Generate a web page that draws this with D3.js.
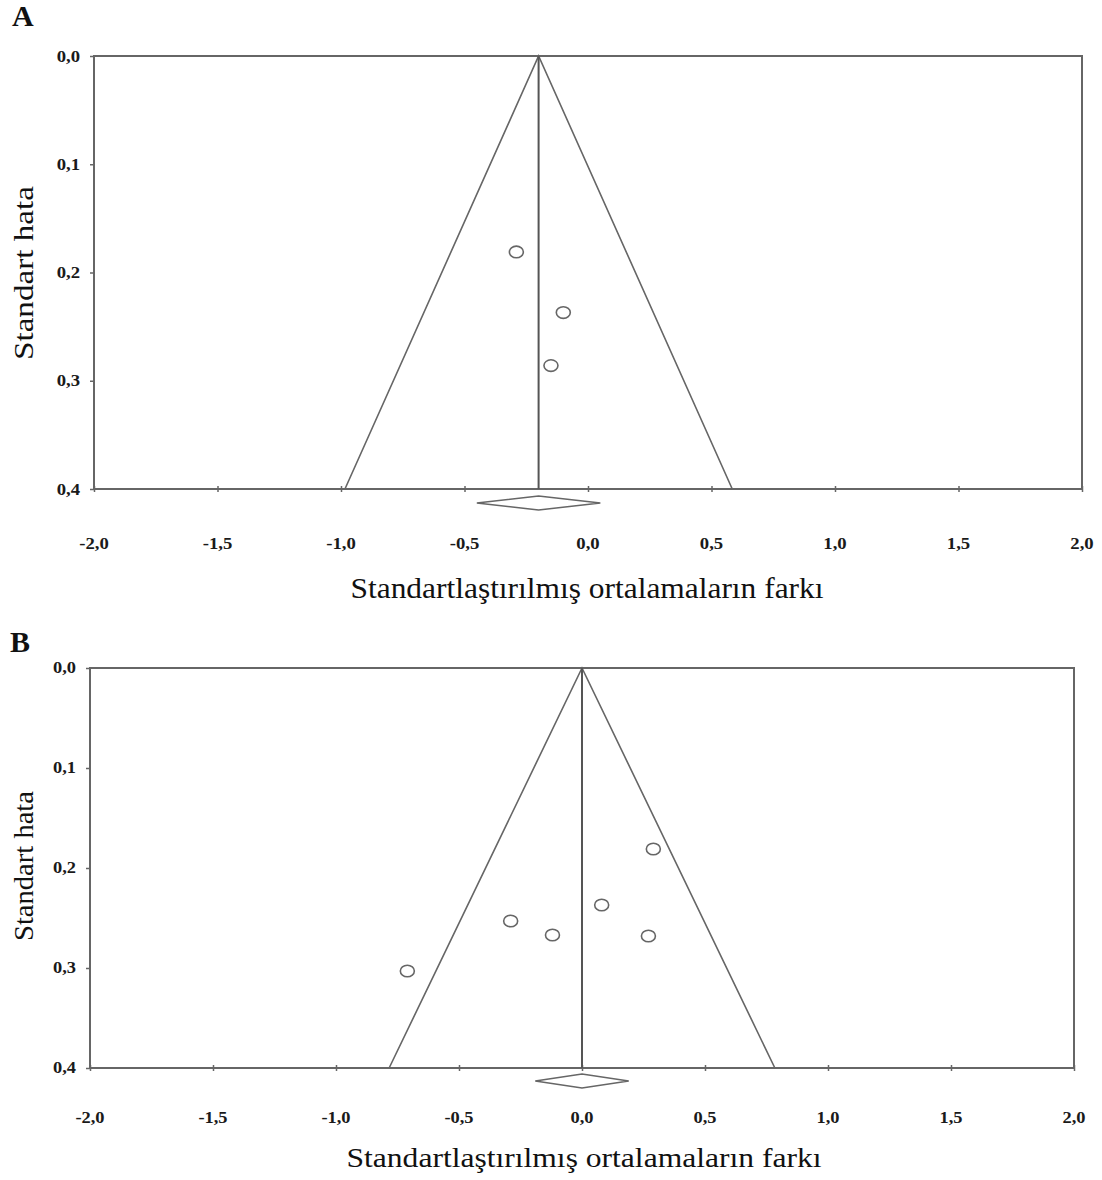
<!DOCTYPE html>
<html>
<head>
<meta charset="utf-8">
<script src="https://cdn.jsdelivr.net/npm/d3@7/dist/d3.min.js"></script>
<style>
  html, body { margin: 0; padding: 0; background: #fff; }
  svg { display: block; }
</style>
</head>
<body>
<svg id="chart" width="1102" height="1180"></svg>
<script>
// Shared axis values
const xTicks = [-2.0, -1.5, -1.0, -0.5, 0.0, 0.5, 1.0, 1.5, 2.0];
const yTicks = [0.0, 0.1, 0.2, 0.3, 0.4];
const xDomain = [-2, 2];
const yDomain = [0, 0.4];
const xTitle = "Standartlaştırılmış ortalamaların farkı";
const yTitle = "Standart hata";

// Panel A: study effects (standardised mean difference) and standard errors
const effectsA = [-0.29, -0.10, -0.15];
const stdErrA = [0.181, 0.237, 0.286];
const pooledA = -0.20;
const pooledCIA = [-0.45, 0.05];

// Panel B
const effectsB = [0.29, 0.08, -0.29, -0.12, 0.27, -0.71];
const stdErrB = [0.181, 0.237, 0.253, 0.267, 0.268, 0.303];
const pooledB = 0.0;
const pooledCIB = [-0.19, 0.19];

const SERIF = "'Liberation Serif', 'Times New Roman', Times, serif";
const fmt = v => d3.format(".1f")(v).replace("\u2212", "-").replace(".", ",");

const svg = d3.select("#chart");

function drawPanel(cfg) {
  const g = svg.append("g").attr("font-family", SERIF);
  const x = d3.scaleLinear().domain(xDomain).range([cfg.left, cfg.right]);
  const y = d3.scaleLinear().domain(yDomain).range([cfg.top, cfg.bottom]);
  const stroke = "#666";

  // panel letter
  g.append("text")
    .attr("x", cfg.letterX).attr("y", cfg.letterY)
    .attr("font-family", SERIF)
    .attr("font-weight", "bold").attr("font-size", 30)
    .attr("fill", "#111")
    .text(cfg.letter);

  // frame
  g.append("rect")
    .attr("x", x(xDomain[0])).attr("y", y(yDomain[0]))
    .attr("width", x(xDomain[1]) - x(xDomain[0]))
    .attr("height", y(yDomain[1]) - y(yDomain[0]))
    .attr("fill", "none").attr("stroke", stroke).attr("stroke-width", 2);

  // y axis ticks and labels
  const yAxis = d3.axisLeft(y).tickValues(yTicks).tickSize(4).tickFormat(fmt);
  const ya = g.append("g").attr("transform", `translate(${x(xDomain[0])},0)`).call(yAxis);
  ya.select(".domain").remove();
  ya.selectAll(".tick line").attr("stroke", stroke).attr("stroke-width", 1.5);
  ya.selectAll(".tick text").remove();
  yTicks.forEach(v => {
    g.append("text")
      .attr("transform", `translate(${cfg.yLabelRight},${y(v) + cfg.tickFont * 0.33}) scale(${cfg.tickScale},1)`)
      .attr("text-anchor", "end").attr("font-weight", "bold")
      .attr("font-family", SERIF)
      .attr("font-size", cfg.tickFont).attr("fill", "#1a1a1a")
      .text(fmt(v));
  });

  // x axis ticks crossing the bottom edge, labels further below
  const xAxis = d3.axisBottom(x).tickValues(xTicks).tickSize(3).tickFormat(fmt);
  const xa = g.append("g").attr("transform", `translate(0,${y(yDomain[1])})`).call(xAxis);
  xa.select(".domain").remove();
  xa.selectAll(".tick line").attr("y1", -3).attr("stroke", stroke).attr("stroke-width", 1.5);
  xa.selectAll(".tick text").remove();
  xTicks.forEach(v => {
    g.append("text")
      .attr("transform", `translate(${x(v)},${cfg.xLabelY}) scale(${cfg.tickScale},1)`)
      .attr("text-anchor", "middle").attr("font-weight", "bold")
      .attr("font-family", SERIF)
      .attr("font-size", cfg.tickFont).attr("fill", "#1a1a1a")
      .text(fmt(v));
  });

  // funnel: pseudo 95% limits around the pooled estimate
  const seMax = yDomain[1];
  const funnel = [
    [cfg.pooled - 1.96 * seMax, seMax],
    [cfg.pooled, 0],
    [cfg.pooled + 1.96 * seMax, seMax]
  ];
  g.append("path")
    .attr("d", d3.line().x(d => x(d[0])).y(d => y(d[1]))(funnel))
    .attr("fill", "none").attr("stroke", stroke).attr("stroke-width", 1.6);

  // vertical line at pooled estimate
  g.append("line")
    .attr("x1", x(cfg.pooled)).attr("x2", x(cfg.pooled))
    .attr("y1", y(0)).attr("y2", y(seMax))
    .attr("stroke", "#555").attr("stroke-width", 2);

  // study points
  g.selectAll("ellipse.study")
    .data(cfg.effects.map((e, i) => ({ e, se: cfg.stdErr[i] })))
    .join("ellipse")
    .attr("class", "study")
    .attr("cx", d => x(d.e)).attr("cy", d => y(d.se))
    .attr("rx", 7).attr("ry", 5.8)
    .attr("fill", "#fff").attr("stroke", stroke).attr("stroke-width", 1.6);

  // pooled estimate diamond below the axis
  const dy = cfg.diamondY, dh = 7;
  const diamond = [
    [x(cfg.ci[0]), dy], [x(cfg.pooled), dy - dh],
    [x(cfg.ci[1]), dy], [x(cfg.pooled), dy + dh]
  ];
  g.append("path")
    .attr("d", d3.line()(diamond) + "Z")
    .attr("fill", "#fff").attr("stroke", stroke).attr("stroke-width", 1.5);

  // axis titles
  g.append("text")
    .attr("x", cfg.xTitleX).attr("y", cfg.xTitleY)
    .attr("text-anchor", "middle").attr("font-size", cfg.titleFont)
    .attr("font-family", SERIF).attr("fill", "#111")
    .attr("textLength", cfg.xTitleLen).attr("lengthAdjust", "spacingAndGlyphs")
    .text(xTitle);
  g.append("text")
    .attr("transform", `translate(${cfg.yTitleX},${cfg.yTitleY}) rotate(-90)`)
    .attr("text-anchor", "middle").attr("font-size", cfg.yTitleFont)
    .attr("font-family", SERIF).attr("fill", "#111")
    .attr("textLength", cfg.yTitleLen).attr("lengthAdjust", "spacingAndGlyphs")
    .text(yTitle);
}

drawPanel({
  letter: "A", letterX: 12, letterY: 26,
  left: 94, right: 1082, top: 56, bottom: 489,
  tickFont: 17, tickScale: 1.1, yLabelRight: 80, xLabelY: 549,
  effects: effectsA, stdErr: stdErrA, pooled: pooledA, ci: pooledCIA,
  diamondY: 503,
  titleFont: 29, xTitleX: 587, xTitleY: 598, xTitleLen: 473,
  yTitleFont: 28, yTitleX: 33, yTitleY: 273, yTitleLen: 174
});

drawPanel({
  letter: "B", letterX: 10, letterY: 652,
  left: 90, right: 1074, top: 668, bottom: 1068,
  tickFont: 16, tickScale: 1.15, yLabelRight: 76, xLabelY: 1123,
  effects: effectsB, stdErr: stdErrB, pooled: pooledB, ci: pooledCIB,
  diamondY: 1081,
  titleFont: 28, xTitleX: 584, xTitleY: 1167, xTitleLen: 475,
  yTitleFont: 27, yTitleX: 33, yTitleY: 866, yTitleLen: 150
});
</script>
</body>
</html>
